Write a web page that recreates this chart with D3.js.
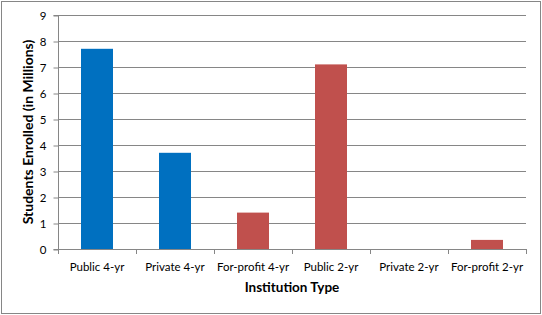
<!DOCTYPE html>
<html>
<head>
<meta charset="utf-8">
<script src="https://cdn.jsdelivr.net/npm/d3@7"></script>
<style>
  body { margin: 0; background: #fff; }
  svg text { font-family: Lato, "Open Sans", sans-serif; fill: #000; }
</style>
</head>
<body>
<svg id="chart" width="542" height="315"></svg>
<script>
// chart data
const categories = ['Public 4-yr', 'Private 4-yr', 'For-profit 4-yr', 'Public 2-yr', 'Private 2-yr', 'For-profit 2-yr'];
const enrolled = [7.7, 3.7, 1.4, 7.1, 0, 0.35];
const barColors = ['#0070C0', '#0070C0', '#C0504D', '#C0504D', '#C0504D', '#C0504D'];
const yTicks = [0, 1, 2, 3, 4, 5, 6, 7, 8, 9];

const svg = d3.select('#chart');
const plotLeft = 58, plotRight = 526, plotTop = 15, plotBottom = 249;

// outer frame
svg.append('rect')
  .attr('x', 1.5).attr('y', 1.5)
  .attr('width', 539).attr('height', 312)
  .style('fill', 'none')
  .style('stroke', '#868686');

const x = d3.scaleBand().domain(categories).range([plotLeft, plotRight]).paddingInner(0.59).paddingOuter(0.295);
const y = d3.scaleLinear().domain([0, 9]).range([plotBottom, plotTop]);

// gridlines
svg.append('g')
  .selectAll('line')
  .data(yTicks)
  .join('line')
  .attr('x1', plotLeft).attr('x2', plotRight)
  .attr('y1', (d) => Math.round(y(d)) + 0.5)
  .attr('y2', (d) => Math.round(y(d)) + 0.5)
  .style('stroke', '#868686');

// bars
svg.append('g')
  .selectAll('rect')
  .data(enrolled)
  .join('rect')
  .attr('x', (d, i) => Math.round(x(categories[i])))
  .attr('width', Math.round(x.bandwidth()))
  .attr('y', (d) => y(d))
  .attr('height', (d) => plotBottom - y(d))
  .style('fill', (d, i) => barColors[i]);

// y axis
const yAxis = svg.append('g')
  .attr('transform', `translate(${plotLeft + 0.5},0.5)`)
  .call(d3.axisLeft(y).tickValues(yTicks).tickSize(5).tickPadding(7));
yAxis.select('.domain').attr('d', `M-5,${plotBottom}H0V${plotTop}H-5`).style('stroke', '#868686');
yAxis.selectAll('.tick line').style('stroke', '#868686');
yAxis.selectAll('.tick text').style('font-size', '11.5px');

// x axis
const xTickPos = d3.range(categories.length + 1).map((i) => plotLeft + x.step() * i);
const xAxis = svg.append('g');
xAxis.append('line')
  .attr('x1', plotLeft).attr('x2', plotRight)
  .attr('y1', plotBottom + 0.5).attr('y2', plotBottom + 0.5)
  .style('stroke', '#868686');
xAxis.selectAll('line.tick')
  .data(xTickPos)
  .join('line')
  .attr('class', 'tick')
  .attr('x1', (d) => Math.round(d) + 0.5).attr('x2', (d) => Math.round(d) + 0.5)
  .attr('y1', plotBottom).attr('y2', plotBottom + 5)
  .style('stroke', '#868686');
xAxis.selectAll('text')
  .data(categories)
  .join('text')
  .attr('x', (d) => x(d) + x.bandwidth() / 2)
  .attr('y', 271)
  .attr('text-anchor', 'middle')
  .style('font-size', '11.5px')
  .text((d) => d);

// axis titles
svg.append('text')
  .attr('x', (plotLeft + plotRight) / 2)
  .attr('y', 292)
  .attr('text-anchor', 'middle')
  .style('font-size', '13.5px')
  .style('font-weight', 'bold')
  .text('Institution Type');

svg.append('text')
  .attr('transform', `translate(33,${(plotTop + plotBottom) / 2}) rotate(-90)`)
  .attr('text-anchor', 'middle')
  .style('font-size', '14px')
  .style('font-weight', 'bold')
  .text('Students Enrolled (in Millions)');
</script>
</body>
</html>
